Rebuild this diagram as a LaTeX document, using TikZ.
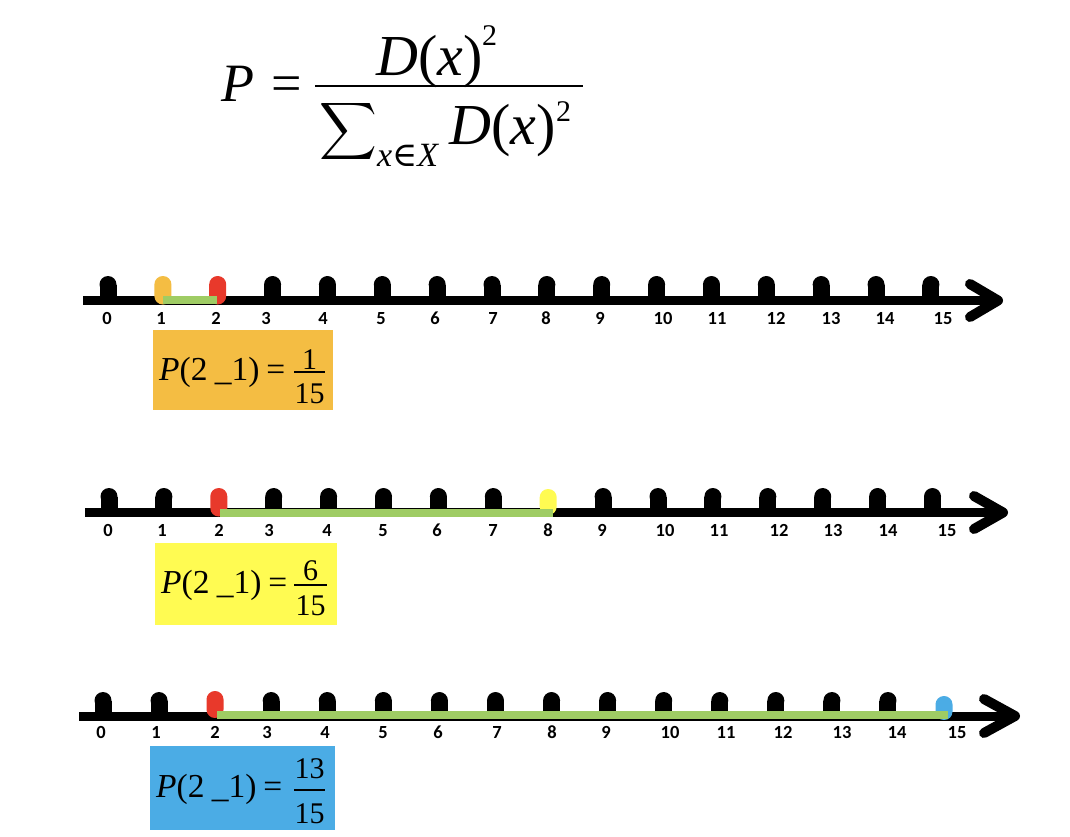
\documentclass[tikz,border=0pt]{standalone}
\usepackage{fontspec}
\setmainfont{Liberation Serif}
\newfontfamily\labfont{Carlito}
\newfontfamily\symfont{DejaVu Serif}
\definecolor{cOrange}{HTML}{F4BD43}
\definecolor{cYellow}{HTML}{FFFB52}
\definecolor{cBlue}{HTML}{4BACE5}
\definecolor{cRed}{HTML}{E8392B}
\definecolor{cGreen}{HTML}{9FCC64}
\newcommand{\blackbump}[3]{\fill (#1-8.5,#3) rectangle (#1+8.5,#2+8.5); \fill (#1,#2+8.5) circle (8.5);}
\newcommand{\colbump}[4]{\fill[#4, rounded corners=8.4pt] (#1-8.5,#2) rectangle (#1+8.5,#3+4);}
\newcommand{\ptext}{\textit{P}(2\hspace{0.22em}\_1)\hspace{0.2em}=}
\begin{document}
\begin{tikzpicture}[x=1pt,y=-1pt,
  lab/.style={font=\labfont\bfseries\fontsize{18.5}{20}\selectfont, inner sep=0, anchor=base},
  axisline/.style={line width=9},
  arrowarms/.style={line width=10, line cap=round, line join=round},
  greenbar/.style={line width=8, cGreen},
  boxmain/.style={font=\fontsize{33.5}{40}\selectfont, inner sep=0, anchor=base west},
  boxfrac/.style={font=\fontsize{30}{36}\selectfont, inner sep=0, anchor=base},
  fracbar/.style={line width=1.6},
  big/.style={font=\fontsize{58}{70}\selectfont, inner sep=0, anchor=base west},
  sup/.style={font=\fontsize{30}{34}\selectfont, inner sep=0, anchor=base west}]
\useasboundingbox (0,0) rectangle (1070,836);
\fill[white] (0,0) rectangle (1070,836);

% ---------- formula ----------
\node[font=\fontsize{54}{60}\selectfont, inner sep=0, anchor=base west] (fP) at (221,101) {\textit{P}};
\node[font=\fontsize{54}{60}\selectfont, inner sep=0, anchor=base] (feq) at (287,101) {=};
\draw[line width=2.5] (315,86) -- (583,86);
\node[big] (fnum) at (376,75) {\textit{D}(\textit{x})};
\node[sup] (fnum2) at (482,45) {2};
\node[scale=4, inner sep=0] (fsum) at (348,131) {$\displaystyle\sum$};
\node[font=\fontsize{34}{40}\selectfont, inner sep=0, anchor=base west] (fsub) at (377,166) {\textit{x}{\symfont ∈}\textit{X}};
\node[big] (fden) at (449,144) {\textit{D}(\textit{x})};
\node[sup] (fden2) at (556,121) {2};

% ---------- row 1 ----------
\draw[axisline] (83,300.5) -- (996,300.5);
\draw[arrowarms] (970,284) -- (998,300.5) -- (970,317);
\foreach \k in {0,3,4,5,6,7,8,9,10,11,12,13,14,15}{
  \pgfmathsetmacro\xx{108+54.86*\k}
  \blackbump{\xx}{276}{300.5}}
\colbump{162.9}{276}{300.5}{cOrange}
\colbump{217.7}{276}{300.5}{cRed}
\draw[greenbar] (163,300) -- (217,300);
\foreach \k/\lx in {0/107,1/161,2/216,3/266,4/323,5/381,6/435,7/493,8/546,9/600,10/663,11/717,12/776,13/831,14/885,15/943}
  \node[lab] (ra\k) at (\lx,324) {\k};
\fill[cOrange] (153,330) rectangle (333,410);
\node[boxmain] (pa) at (159,380) {\ptext};
\draw[fracbar] (294,372) -- (325,372);
\node[boxfrac] (pan) at (309.5,369.5) {1};
\node[boxfrac] (pad) at (309.5,403) {15};

% ---------- row 2 ----------
\draw[axisline] (85,512.5) -- (1002,512.5);
\draw[arrowarms] (974,496) -- (1003,512.5) -- (974,529);
\foreach \k in {0,1,3,4,5,6,7,9,10,11,12,13,14,15}{
  \pgfmathsetmacro\xx{109+54.9*\k}
  \blackbump{\xx}{488}{512.5}}
\colbump{218.8}{488}{512.5}{cRed}
\colbump{548.2}{489}{511}{cYellow}
\draw[greenbar] (220,513) -- (553,513);
\foreach \k/\lx in {0/108,1/162,2/219,3/269,4/327,5/383,6/437,7/493,8/548,9/602,10/665,11/719,12/779,13/833,14/888,15/947}
  \node[lab] (rb\k) at (\lx,536) {\k};
\fill[cYellow] (155,543) rectangle (337,625);
\node[boxmain] (pb) at (161,593.5) {\ptext};
\draw[fracbar] (294,585) -- (327,585);
\node[boxfrac] (pbn) at (310.5,580) {6};
\node[boxfrac] (pbd) at (310.5,615) {15};

% ---------- row 3 ----------
\draw[axisline] (79,716.5) -- (1014,716.5);
\draw[arrowarms] (984,699) -- (1015,716) -- (984,733);
\foreach \k in {0,1,3,4,5,6,7,8,9,10,11,12,13,14}{
  \pgfmathsetmacro\xx{103+56.07*\k}
  \blackbump{\xx}{692}{716.5}}
\colbump{215}{691}{714}{cRed}
\colbump{944}{696}{716}{cBlue}
\draw[greenbar] (217,714.5) -- (948,714.5);
\foreach \k/\lx in {0/101,1/156,2/215,3/267,4/325,5/383,6/438,7/497,8/552,9/606,10/670,11/726,12/783,13/842,14/897,15/957}
  \node[lab] (rc\k) at (\lx,738) {\k};
\fill[cBlue] (150,746) rectangle (335,830);
\node[boxmain] (pc) at (156,797) {\ptext};
\draw[fracbar] (294,790) -- (325,790);
\node[boxfrac] (pcn) at (309.5,778.5) {13};
\node[boxfrac] (pcd) at (309.5,823) {15};
\end{tikzpicture}
\end{document}
